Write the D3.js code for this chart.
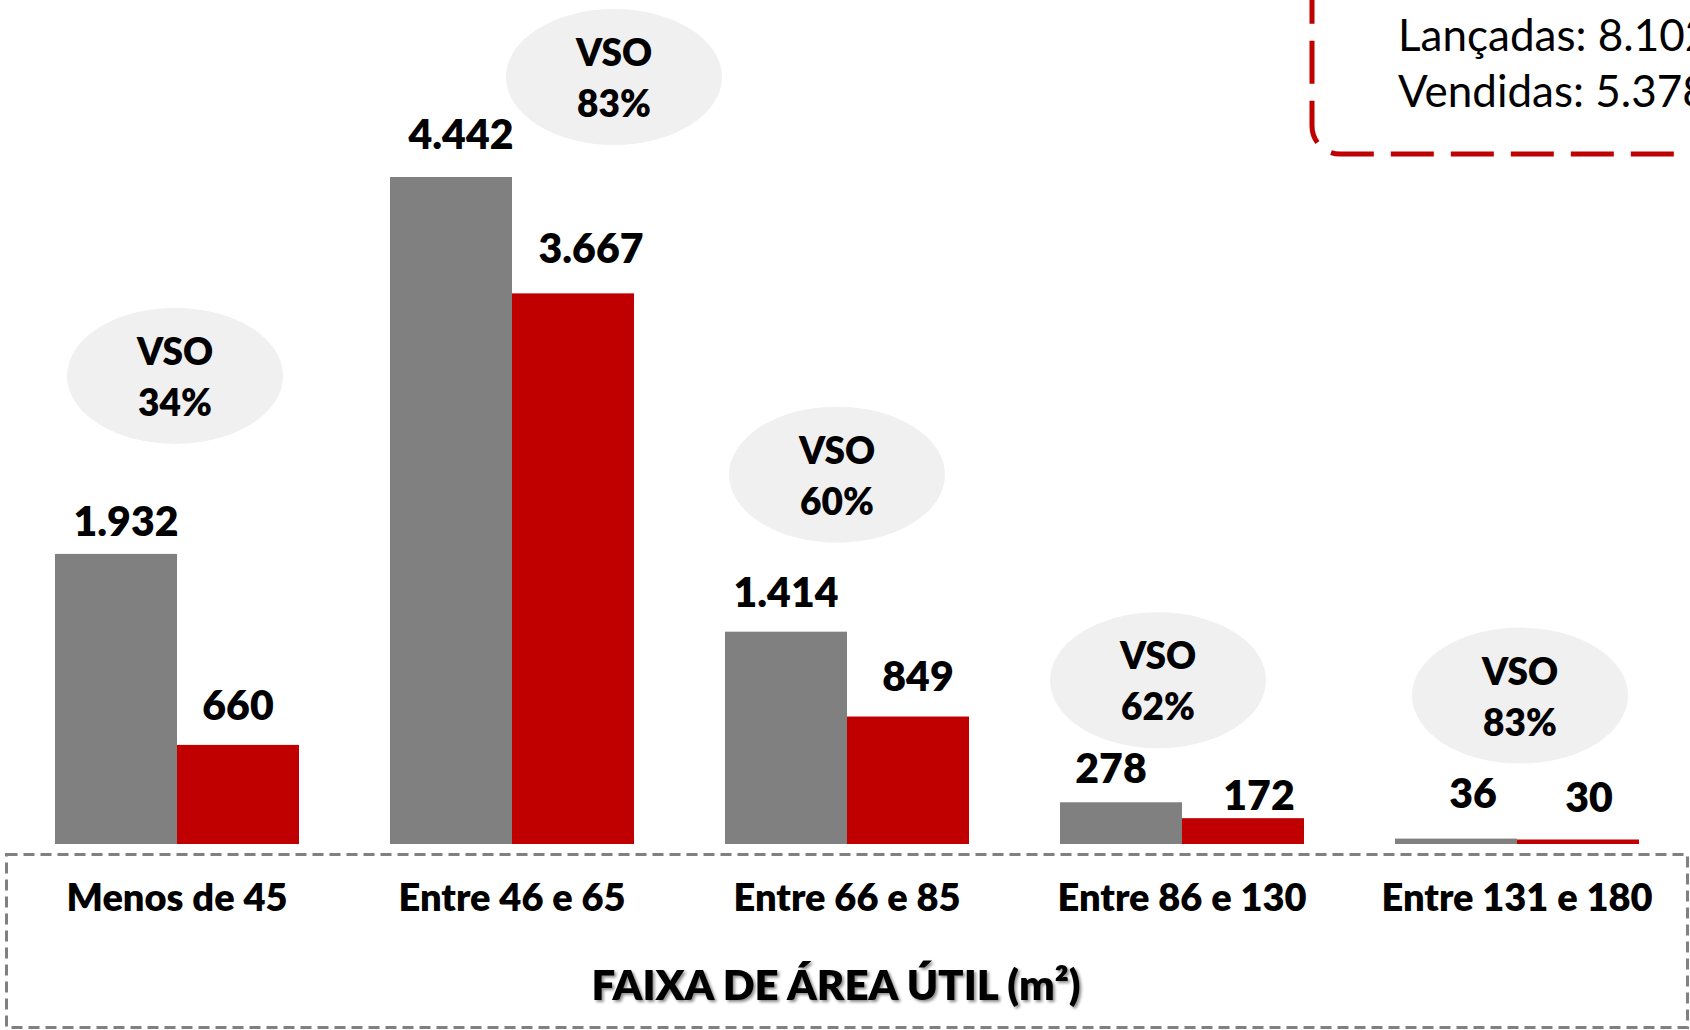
<!DOCTYPE html>
<html>
<head>
<meta charset="utf-8">
<script src="https://cdn.jsdelivr.net/npm/d3@7"></script>
<style>
  body { margin: 0; background: #fff; }
  svg { display: block; font-family: Lato, 'Open Sans', sans-serif; }
</style>
</head>
<body>
<svg id="chart"></svg>
<script>
const categories = ['Menos de 45', 'Entre 46 e 65', 'Entre 66 e 85', 'Entre 86 e 130', 'Entre 131 e 180'];
const lancadas = [1932, 4442, 1414, 278, 36];
const vendidas = [660, 3667, 849, 172, 30];
const vso = [34, 83, 60, 62, 83];
const axisTitle = 'FAIXA DE ÁREA ÚTIL (m²)';

// layout only: callout bubbles placed by hand (dx from group centre, dy above grey bar)
const calloutOffset = [[-2, 178], [102, 100], [-10, 157], [-24, 122], [3, 143]];
// label nudges [dx, gap above bar] as they sit in the original slide
const greyLabelShift = [[10, 18], [10, 28], [0, 25], [-10, 19], [17, 31]];
const redLabelShift = [[0, 25], [18, 30], [10, 26], [16, 8], [11, 27]];

const width = 1690;
const height = 1030;
const grey = '#808080';
const red = '#C00000';
const heavy = 800;

const br = d3.formatLocale({ decimal: ',', thousands: '.', grouping: [3], currency: ['R$', ''] });
const fmt = br.format(',d');

const svg = d3.select('#chart')
    .attr('width', width)
    .attr('height', height);

const defs = svg.append('defs');
defs.append('filter')
    .attr('id', 'shadow')
    .attr('x', '-5%').attr('y', '-20%')
    .attr('width', '110%').attr('height', '150%')
    .append('feDropShadow')
    .attr('dx', 2).attr('dy', 2)
    .attr('stdDeviation', 1.5)
    .attr('flood-color', '#000')
    .attr('flood-opacity', 0.45);

const x = d3.scaleBand()
    .domain(categories)
    .range([9.5, 1684.5])
    .paddingInner(0.2716)
    .paddingOuter(0.1358);

const sub = d3.scaleBand()
    .domain(['lanc', 'vend'])
    .range([0, x.bandwidth()]);

const y = d3.scaleLinear()
    .domain([0, 4442])
    .range([844, 177]);

const rows = categories.map((c, i) => ({ cat: c, i: i, lanc: lancadas[i], vend: vendidas[i], vso: vso[i] }));

// grey dashed frame round the category axis
svg.append('rect')
    .attr('x', 6.5).attr('y', 854.5)
    .attr('width', 1681).attr('height', 173)
    .attr('fill', 'none')
    .attr('stroke', grey)
    .attr('stroke-width', 3)
    .attr('stroke-dasharray', '11,6');

// VSO bubbles
const bubble = svg.append('g')
    .selectAll('g')
    .data(rows)
    .enter().append('g')
    .attr('transform', d => {
        const cx = x(d.cat) + x.bandwidth() / 2 + calloutOffset[d.i][0];
        const cy = y(d.lanc) - calloutOffset[d.i][1];
        return `translate(${cx},${cy})`;
    });

bubble.append('ellipse')
    .attr('rx', 108)
    .attr('ry', 68)
    .attr('fill', '#F0F0F0');

bubble.append('text')
    .attr('text-anchor', 'middle')
    .attr('y', -11)
    .style('font-weight', heavy)
    .style('font-size', '37px')
    .text('VSO');

bubble.append('text')
    .attr('text-anchor', 'middle')
    .attr('y', 40)
    .style('font-weight', heavy)
    .style('font-size', '37px')
    .text(d => d.vso + '%');

// bars
const group = svg.append('g')
    .selectAll('g')
    .data(rows)
    .enter().append('g')
    .attr('transform', d => `translate(${x(d.cat)},0)`);

group.append('rect')
    .attr('x', sub('lanc'))
    .attr('y', d => y(d.lanc))
    .attr('width', sub.bandwidth())
    .attr('height', d => y(0) - y(d.lanc))
    .attr('fill', grey);

group.append('rect')
    .attr('x', sub('vend'))
    .attr('y', d => y(d.vend))
    .attr('width', sub.bandwidth())
    .attr('height', d => y(0) - y(d.vend))
    .attr('fill', red);

group.append('text')
    .attr('text-anchor', 'middle')
    .attr('x', d => sub('lanc') + sub.bandwidth() / 2 + greyLabelShift[d.i][0])
    .attr('y', d => y(d.lanc) - greyLabelShift[d.i][1])
    .style('font-weight', heavy)
    .style('font-size', '41px')
    .text(d => fmt(d.lanc));

group.append('text')
    .attr('text-anchor', 'middle')
    .attr('x', d => sub('vend') + sub.bandwidth() / 2 + redLabelShift[d.i][0])
    .attr('y', d => y(d.vend) - redLabelShift[d.i][1])
    .style('font-weight', heavy)
    .style('font-size', '41px')
    .text(d => fmt(d.vend));

// category axis
const axis = svg.append('g')
    .attr('transform', 'translate(0,911)')
    .call(d3.axisBottom(x).tickSize(0).tickPadding(0));
axis.select('.domain').remove();
axis.selectAll('text')
    .attr('dy', 0)
    .attr('fill', '#000')
    .style('font-family', 'Lato, sans-serif')
    .style('font-weight', heavy)
    .style('font-size', '38px');

svg.append('text')
    .attr('x', 836)
    .attr('y', 1000)
    .attr('text-anchor', 'middle')
    .attr('filter', 'url(#shadow)')
    .style('font-weight', heavy)
    .style('font-size', '42px')
    .text(axisTitle);

// totals box, partly cut off at the top right
svg.append('rect')
    .attr('x', 1312).attr('y', -120)
    .attr('width', 520).attr('height', 274)
    .attr('rx', 28)
    .attr('fill', 'none')
    .attr('stroke', red)
    .attr('stroke-width', 5)
    .attr('stroke-dasharray', '43,17');

svg.append('text')
    .attr('x', 1398).attr('y', 51)
    .style('font-size', '44px')
    .text('Lançadas: ' + fmt(d3.sum(lancadas)));

svg.append('text')
    .attr('x', 1398).attr('y', 107)
    .style('font-size', '44px')
    .text('Vendidas: ' + fmt(d3.sum(vendidas)));
</script>
</body>
</html>
